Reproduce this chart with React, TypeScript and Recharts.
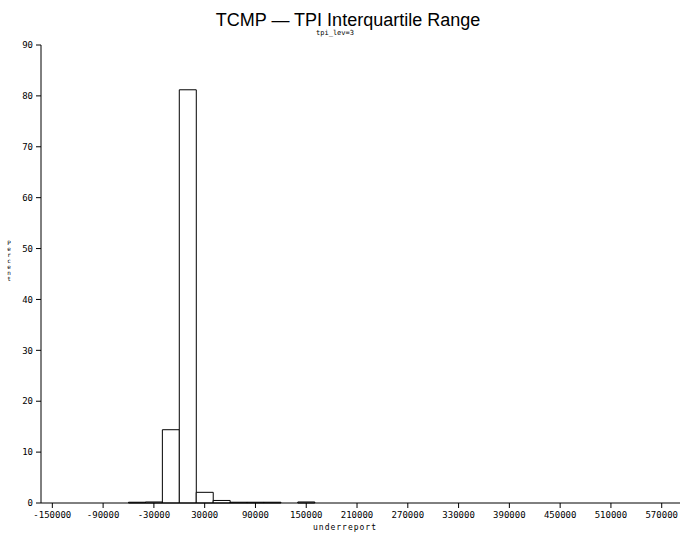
import { ComposedChart, Bar, XAxis, YAxis } from 'recharts';

// histogram bin midpoints (bins are 20000 wide) and percent of observations
const binMids = [-50000, -30000, -10000, 10000, 30000, 50000, 70000, 90000, 110000, 130000, 150000];
const percents = [0.15, 0.2, 14.4, 81.2, 2.1, 0.5, 0.15, 0.15, 0.15, 0, 0.2];

const xTicks = [-150000, -90000, -30000, 30000, 90000, 150000, 210000, 270000, 330000, 390000, 450000, 510000, 570000];
const yTicks = [0, 10, 20, 30, 40, 50, 60, 70, 80, 90];

const data = binMids.map((mid, i) => ({ mid, pct: percents[i] }));

const MONO = '"DejaVu Sans Mono", monospace';
const tickStyle = { fontSize: 9, fontFamily: MONO, fill: '#000' };

export default function App() {
    return (
        <div style={{ position: 'absolute', left: 0, top: 0, width: 682, height: 539, background: '#fff' }}>
            <div style={{
                position: 'absolute', left: 348, top: 10, transform: 'translateX(-50%)',
                fontFamily: '"Liberation Sans", Arial, sans-serif', fontSize: 18, lineHeight: '20px', whiteSpace: 'nowrap'
            }}>
                TCMP — TPI Interquartile Range
            </div>
            <div style={{
                position: 'absolute', left: 335, top: 29, transform: 'translateX(-50%)',
                fontFamily: MONO, fontSize: 7, lineHeight: '9px', whiteSpace: 'nowrap'
            }}>
                tpi_lev=3
            </div>
            <div style={{
                position: 'absolute', left: 5, top: 240, width: 8, textAlign: 'center',
                fontFamily: MONO, fontSize: 6, lineHeight: '6px'
            }}>
                {'Percent'.split('').map((c, i) => <div key={i}>{c}</div>)}
            </div>
            <div style={{
                position: 'absolute', left: 345, top: 523, transform: 'translateX(-50%)',
                fontFamily: MONO, fontSize: 8, lineHeight: '10px', letterSpacing: 1, whiteSpace: 'nowrap'
            }}>
                underreport
            </div>
            <ComposedChart
                width={682}
                height={539}
                data={data}
                margin={{ top: 45, right: 2, bottom: 0, left: 0 }}
                barCategoryGap={0}
                barGap={0}
            >
                <XAxis
                    dataKey="mid"
                    type="number"
                    domain={[-163400, 591600]}
                    ticks={xTicks}
                    interval={0}
                    height={36}
                    tickSize={5}
                    tickMargin={4}
                    tick={tickStyle}
                    axisLine={{ stroke: '#000' }}
                    tickLine={{ stroke: '#000' }}
                    allowDataOverflow
                />
                <XAxis xAxisId="top" orientation="top" type="number" domain={[0, 1]} tick={false} tickLine={false} height={0} axisLine={{ stroke: '#000' }} />
                <YAxis
                    type="number"
                    domain={[0, 90]}
                    ticks={yTicks}
                    interval={0}
                    width={41}
                    tickSize={5}
                    tickMargin={3}
                    tick={tickStyle}
                    axisLine={{ stroke: '#000' }}
                    tickLine={{ stroke: '#000' }}
                />
                <YAxis yAxisId="right" orientation="right" type="number" domain={[0, 1]} tick={false} tickLine={false} width={0} axisLine={{ stroke: '#000' }} />
                <Bar dataKey="pct" fill="#fff" stroke="#000" strokeWidth={1} isAnimationActive={false} />
            </ComposedChart>
        </div>
    );
}
